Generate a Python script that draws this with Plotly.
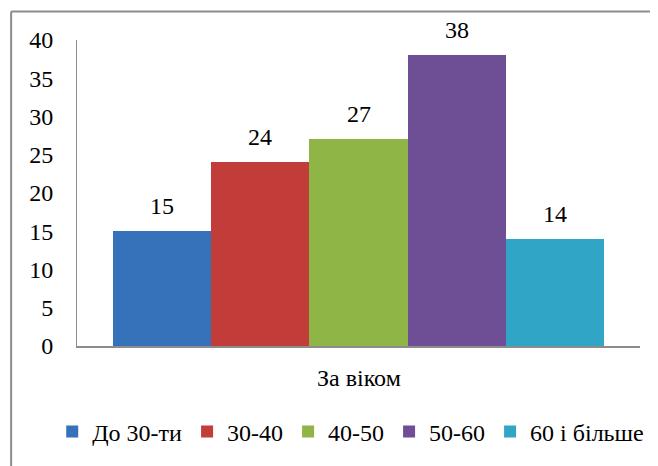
import plotly.graph_objects as go

# --- DATA ---
groups = ["До 30-ти", "30-40", "40-50", "50-60", "60 і більше"]
values = [15, 24, 27, 38, 14]
colors = ["#3672BA", "#C23C39", "#8EB545", "#6E4E95", "#31A5C5"]
category_title = "За віком"

SERIF = "Liberation Serif"

fig = go.Figure()

# one trace per age group so each gets its own legend entry
for name, val, col in zip(groups, values, colors):
    fig.add_trace(go.Bar(
        x=[name], y=[val], name=name,
        marker=dict(color=col, line=dict(width=0)),
    ))

# value labels above bars
for name, val in zip(groups, values):
    fig.add_annotation(
        x=name, y=val, text=str(val), showarrow=False,
        yanchor="bottom", yshift=10,
        font=dict(family=SERIF, size=24, color="black"),
    )

# category label under the axis
fig.add_annotation(
    xref="paper", yref="paper", x=0.5, y=-0.106, text=category_title,
    showarrow=False, yanchor="middle",
    font=dict(family=SERIF, size=24, color="black"),
)

# chart border (top + left visible in the reference; right/bottom are cut off)
fig.add_shape(type="line", xref="paper", yref="paper",
              x0=-0.117, x1=1.05, y0=1.0935, y1=1.0935,
              line=dict(color="#8c8c8c", width=2))
fig.add_shape(type="line", xref="paper", yref="paper",
              x0=-0.117, x1=-0.117, y0=1.0935, y1=-0.4,
              line=dict(color="#8c8c8c", width=2))

# page body adds an 8px offset, so the figure is 8px smaller than the window
fig.update_layout(
    width=650, height=458,
    margin=dict(l=69, r=18, t=32, b=116),
    paper_bgcolor="white", plot_bgcolor="white",
    barmode="overlay", bargap=0,
    showlegend=True,
    legend=dict(
        orientation="h", x=-0.044, xanchor="left", y=-0.281, yanchor="middle",
        font=dict(family=SERIF, size=24, color="black"),
        bgcolor="rgba(0,0,0,0)",
    ),
    xaxis=dict(
        range=[-0.87, 4.87], showticklabels=False, ticks="",
        showgrid=False, zeroline=False,
        showline=True, linecolor="#8c8c8c", linewidth=2,
    ),
    yaxis=dict(
        range=[0, 40], dtick=5, ticks="", showgrid=False, zeroline=False,
        showline=True, linecolor="#8c8c8c", linewidth=1,
        ticklabelstandoff=18,
        tickfont=dict(family=SERIF, size=24, color="black"),
    ),
)

fig.write_html("out.html")
